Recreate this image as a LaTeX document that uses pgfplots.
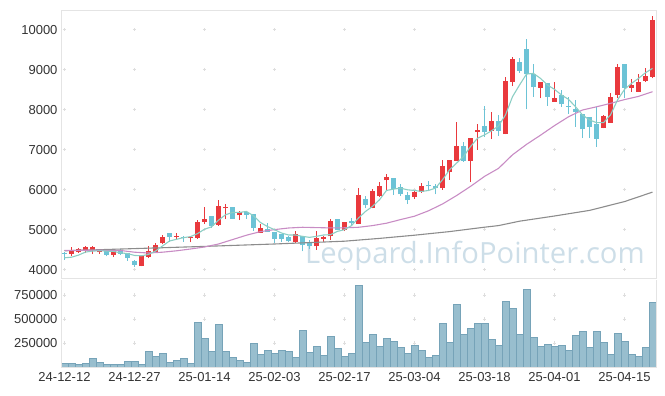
\documentclass[border=0pt]{standalone}
\usepackage{fontspec}
\setmainfont{Liberation Sans}
\newfontfamily\wmfont{Open Sans}
\usepackage{pgfplots}
\usepackage{pgfplotstable}
\pgfplotsset{compat=1.18}

\definecolor{cup}{RGB}{233,57,61}
\definecolor{cdn}{RGB}{108,195,214}
\definecolor{ma5}{RGB}{140,206,196}
\definecolor{ma20}{RGB}{200,140,196}
\definecolor{ma60}{RGB}{140,140,140}
\definecolor{vfill}{RGB}{152,190,206}
\definecolor{vedge}{RGB}{118,163,184}
\definecolor{framec}{RGB}{228,228,228}
\definecolor{tickc}{RGB}{51,51,51}
\definecolor{wm}{RGB}{205,222,232}
\definecolor{crossc}{RGB}{222,222,222}

% up candles: index open high low close
\pgfplotstableread{
i o h l c
1 4387 4555 4337 4471
2 4438 4530 4420 4505
3 4488 4580 4412 4555
4 4488 4580 4387 4555
5 4438 4521 4387 4496
7 4362 4500 4311 4496
11 4084 4345 4080 4337
12 4320 4580 4286 4454
13 4446 4664 4429 4622
14 4656 4866 4631 4824
16 4816 4925 4774 4841
18 4790 4824 4681 4810
19 4790 5236 4774 5194
20 5194 5572 5135 5269
22 5118 5748 5101 5588
23 5530 5639 5260 5555
25 5353 5470 5235 5437
28 4916 5130 4912 5034
33 4682 4955 4665 4881
36 4582 4973 4499 4798
37 4773 4840 4690 4823
38 4831 5264 4748 5206
40 4981 5185 4960 5180
42 5147 6038 5140 5871
44 5538 6020 5530 5953
45 5830 6190 5810 6095
46 6228 6386 5995 6319
50 5812 5995 5760 5945
51 5945 6170 5920 6095
54 6028 6743 5995 6594
55 6436 6743 6240 6743
56 6726 7683 6710 7093
58 6726 7292 6187 7292
59 7442 7641 7000 7500
61 7459 7933 7259 7716
63 7384 8806 7380 8714
64 8697 9305 8589 9255
68 8547 8680 8282 8680
70 8198 8697 8190 8282
77 7549 7870 7533 7841
78 7674 8407 7674 8307
79 8365 9138 8282 9055
81 8547 8756 8448 8606
82 8448 8880 8440 8689
83 8722 9030 8700 8838
84 8822 10335 8780 10235
}\upt

% down candles: index open high low close
\pgfplotstableread{
i o h l c
0 4410 4440 4250 4390
6 4521 4525 4328 4362
8 4496 4505 4362 4387
9 4404 4420 4227 4286
10 4227 4244 4076 4127
15 4908 4912 4698 4816
17 4824 4841 4698 4799
21 5336 5340 5051 5084
24 5563 5570 5260 5269
26 5445 5470 5270 5370
27 5378 5382 4967 5042
29 5015 5165 4937 4941
30 4940 4945 4665 4773
31 4890 4895 4700 4773
32 4806 4830 4680 4706
34 4848 4852 4457 4607
35 4690 4745 4520 4582
39 5264 5268 4980 5000
41 5205 5289 5100 5163
43 5763 5830 5530 5604
47 6295 6300 5870 6012
48 6062 6130 5850 5878
49 5853 5928 5638 5729
52 6120 6220 5970 6078
53 6095 6140 5880 6028
57 7093 7180 6700 6726
60 7591 8098 7325 7434
62 7716 7860 7340 7475
65 9180 9280 8920 8971
66 9512 9753 8007 8880
67 8880 9129 8322 8556
69 8656 8660 8090 8322
71 8365 8480 8073 8132
72 8090 8307 7891 8070
73 8007 8240 7574 7948
74 7891 7895 7284 7508
75 7808 7812 7284 7574
76 7641 8073 7075 7275
80 9138 9142 8282 8547
}\dnt

\pgfplotstableread{
i v
0 34700
1 34700
2 24000
3 34700
4 86800
5 45100
6 24300
7 24300
8 24300
9 55500
10 55500
11 24300
12 160000
13 107600
14 138800
15 45100
16 65900
17 86800
18 34700
19 461500
20 295000
21 160000
22 440700
23 160000
24 97200
25 65900
26 45100
27 242900
28 128400
29 170000
30 138800
31 170000
32 160000
33 97200
34 378200
35 149200
36 211700
37 118000
38 315800
39 190900
40 107600
41 138800
42 850000
43 253300
44 336600
45 211700
46 295000
47 263700
48 201300
49 138800
50 222100
51 170000
52 97200
53 118000
54 451100
55 253300
56 648900
57 336600
58 399000
59 451100
60 451100
61 284500
62 222100
63 680100
64 607300
65 336600
66 805000
67 305400
68 211700
69 232500
70 211700
71 222100
72 170000
73 326200
74 367800
75 201300
76 367800
77 253300
78 128400
79 347000
80 263700
81 128400
82 107600
83 201300
84 669700
}\volt

\begin{document}
\begin{tikzpicture}
\path[use as bounding box] (0,0) rectangle (665bp,-396bp);
% watermark
\node[anchor=base west, inner sep=0, text=wm, font=\wmfont\fontsize{29.2bp}{29.2bp}\selectfont] at (305bp,-263.5bp) {Leopard.InfoPointer.com};

\begin{axis}[
  at={(61bp,-10bp)}, anchor=north west,
  scale only axis, width=595bp, height=268bp,
  xmin=-0.5, xmax=84.5, ymin=3790, ymax=10490,
  clip mode=individual,
  axis line style={draw=framec},
  major tick length=0,
  scaled y ticks=false, scaled x ticks=false,
  xtick={0,10,...,80}, xticklabels={},
  ytick={4000,5000,6000,7000,8000,9000,10000},
  yticklabels={4000,5000,6000,7000,8000,9000,10000},
  yticklabel style={font=\fontsize{13bp}{15bp}\selectfont, text=tickc},
]
% grid crosses
\addplot[only marks, mark=+, mark size=1.6bp, color=crossc, forget plot] coordinates {
(0,4000)(10,4000)(20,4000)(30,4000)(40,4000)(50,4000)(60,4000)(70,4000)(80,4000)
(0,5000)(10,5000)(20,5000)(30,5000)(40,5000)(50,5000)(60,5000)(70,5000)(80,5000)
(0,6000)(10,6000)(20,6000)(30,6000)(40,6000)(50,6000)(60,6000)(70,6000)(80,6000)
(0,7000)(10,7000)(20,7000)(30,7000)(40,7000)(50,7000)(60,7000)(70,7000)(80,7000)
(0,8000)(10,8000)(20,8000)(30,8000)(40,8000)(50,8000)(60,8000)(70,8000)(80,8000)
(0,9000)(10,9000)(20,9000)(30,9000)(40,9000)(50,9000)(60,9000)(70,9000)(80,9000)
(0,10000)(10,10000)(20,10000)(30,10000)(40,10000)(50,10000)(60,10000)(70,10000)(80,10000)
};
% wicks
\addplot[draw=none, mark=none, forget plot,
  error bars/.cd, y dir=plus, y explicit, error mark=none,
  error bar style={draw=cup, line width=1bp}]
  table[x=i, y=l, y error plus expr=\thisrow{h}-\thisrow{l}] {\upt};
\addplot[draw=none, mark=none, forget plot,
  error bars/.cd, y dir=plus, y explicit, error mark=none,
  error bar style={draw=cdn, line width=1bp}]
  table[x=i, y=l, y error plus expr=\thisrow{h}-\thisrow{l}] {\dnt};
% bodies
\addplot[draw=none, mark=none, forget plot,
  error bars/.cd, y dir=plus, y explicit, error mark=none,
  error bar style={draw=cup, line width=5.2bp}]
  table[x=i, y=o, y error plus expr=\thisrow{c}-\thisrow{o}] {\upt};
\addplot[draw=none, mark=none, forget plot,
  error bars/.cd, y dir=plus, y explicit, error mark=none,
  error bar style={draw=cdn, line width=5.2bp}]
  table[x=i, y=c, y error plus expr=\thisrow{o}-\thisrow{c}] {\dnt};
% moving averages
\addplot[color=ma60, line width=1.1bp, mark=none] coordinates {
(0,4470) (10,4525) (20,4580) (30,4640) (40,4710) (45,4780) (50,4860) (55,4950) (60,5060) (62,5100) (65,5210) (70,5340) (75,5480) (80,5700) (84,5937)
};
\addplot[color=ma20, line width=1.1bp, mark=none] coordinates {
(0,4480) (4,4485) (8,4478) (10,4435) (12,4415) (14,4435) (16,4470) (18,4515) (20,4565) (22,4640) (24,4750) (26,4860) (28,4950) (30,5000) (32,5040) (34,5058) (36,5050) (38,5042) (40,5045) (42,5058) (44,5100) (46,5160) (48,5250) (50,5335) (52,5470) (54,5640) (56,5850) (58,6080) (60,6330) (62,6530) (64,6870) (66,7130) (68,7360) (70,7600) (72,7820) (74,7990) (76,8070) (78,8156) (80,8250) (82,8330) (84,8447)
};
\addplot[color=ma5, line width=1.1bp, mark=none] coordinates {
(0,4295) (1,4310) (2,4362) (3,4438) (4,4463) (5,4471) (6,4463) (7,4455) (8,4420) (9,4400) (10,4354) (11,4345) (12,4379) (13,4463) (14,4590) (15,4715) (16,4757) (17,4799) (18,4824) (19,4900) (20,5009) (21,5068) (22,5236) (23,5370) (24,5429) (25,5429) (26,5454) (27,5345) (28,5177) (29,5076) (30,4998) (31,4915) (32,4865) (33,4865) (34,4831) (35,4806) (36,4831) (37,4865) (38,4873) (39,4956) (40,4998) (41,5100) (42,5290) (43,5454) (44,5580) (45,5746) (46,5978) (47,6012) (48,6037) (49,5995) (50,5978) (51,5953) (52,5978) (53,6037) (54,6245) (55,6494) (56,6660) (57,6826) (58,7075) (59,7284) (60,7367) (61,7470) (62,7590) (63,7866) (64,8323) (65,8614) (66,8888) (67,8905) (68,8780) (69,8614) (70,8506) (71,8365) (72,8256) (73,8073) (74,7866) (75,7741) (76,7674) (77,7674) (78,7866) (79,8240) (80,8506) (81,8656) (82,8780) (83,8922) (84,9030)
};
\end{axis}

\begin{axis}[
  at={(61bp,-280bp)}, anchor=north west,
  scale only axis, width=595bp, height=87bp,
  xmin=-0.5, xmax=84.5, ymin=0, ymax=906000,
  clip mode=individual,
  axis line style={draw=none},
  major tick length=0,
  scaled y ticks=false, scaled x ticks=false,
  xtick={0,10,...,80},
  xticklabels={24-12-12,24-12-27,25-01-14,25-02-03,25-02-17,25-03-04,25-03-18,25-04-01,25-04-15},
  xticklabel style={font=\fontsize{13bp}{15bp}\selectfont, text=tickc, yshift=-2bp},
  ytick={250000,500000,750000},
  yticklabels={250000,500000,750000},
  yticklabel style={font=\fontsize{13bp}{15bp}\selectfont, text=tickc},
]
\addplot[only marks, mark=+, mark size=1.6bp, color=crossc, forget plot] coordinates {
(0,250000)(10,250000)(20,250000)(30,250000)(40,250000)(50,250000)(60,250000)(70,250000)(80,250000)
(0,500000)(10,500000)(20,500000)(30,500000)(40,500000)(50,500000)(60,500000)(70,500000)(80,500000)
(0,750000)(10,750000)(20,750000)(30,750000)(40,750000)(50,750000)(60,750000)(70,750000)(80,750000)
};
\addplot[ybar, bar width=1, fill=vfill, draw=vedge, line width=0.8bp] table[x=i, y=v] {\volt};
\draw[framec, line width=0.8bp] (rel axis cs:0,1) -- (rel axis cs:0,0) -- (rel axis cs:1,0) -- (rel axis cs:1,1);
\end{axis}
\end{tikzpicture}
\end{document}
